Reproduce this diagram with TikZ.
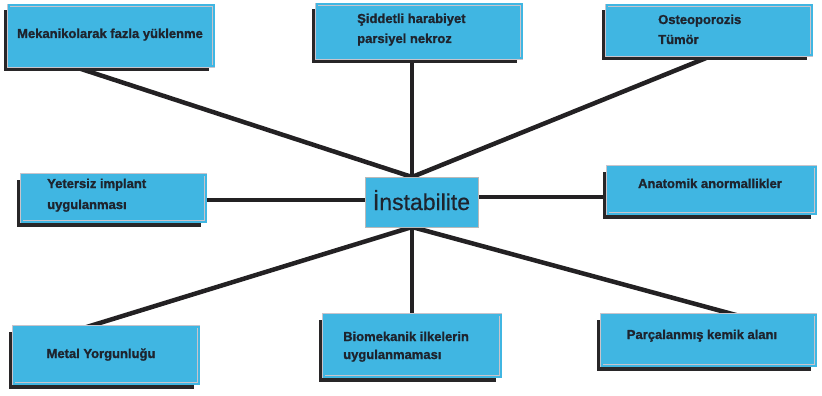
\documentclass[tikz,border=0pt]{standalone}
\usepackage{fontspec}
\setmainfont{Liberation Sans}[BoldFeatures={FakeBold=1.2}]
\newfontfamily\hubfont{Liberation Sans}[FakeBold=0.6]
\usetikzlibrary{shadows,backgrounds}
\definecolor{boxc}{RGB}{64,182,226}
\definecolor{framec}{RGB}{200,196,204}
\definecolor{shadc}{RGB}{40,38,40}
\definecolor{linec}{RGB}{35,33,35}
\definecolor{txtc}{RGB}{30,36,46}
\tikzset{
  box/.style={rectangle, inner sep=0pt, fill=boxc, draw=framec, line width=0.7pt,
    double=boxc, double distance=2pt,
    drop shadow={shadow xshift=-5pt, shadow yshift=-5pt, fill=shadc, opacity=1}},
  hubbox/.style={rectangle, inner sep=0pt, fill=boxc, draw=gray!55, line width=0.6pt},
  lbl/.style={inner sep=0pt, text=txtc, font=\bfseries\fontsize{13}{15}\selectfont},
  conn/.style={draw=linec, line width=4.5pt},
}
\begin{document}
\begin{tikzpicture}[x=1pt,y=-1pt]
\useasboundingbox (0,0) rectangle (822,396);

% boxes
\node[box, minimum width=205pt, minimum height=61pt] (b1) at (111,36) {};
\node[box, minimum width=205pt, minimum height=54pt] (b2) at (419,31.5) {};
\node[box, minimum width=205pt, minimum height=50pt] (b3) at (709,30.5) {};
\node[box, minimum width=184pt, minimum height=47pt] (b4) at (113.5,198) {};
\node[box, minimum width=208pt, minimum height=47pt] (b5) at (711.5,190) {};
\node[box, minimum width=185pt, minimum height=57pt] (b6) at (106,355) {};
\node[box, minimum width=177pt, minimum height=62pt] (b7) at (412,345.5) {};
\node[box, minimum width=214pt, minimum height=51pt] (b8) at (708.5,340) {};
\node[hubbox, minimum width=113pt, minimum height=50pt] (ctr) at (421.5,202) {};

% connector ends
\coordinate (hubT) at (412,177);
\coordinate (hubB) at (412,227);
\coordinate (hubL) at (366,200);
\coordinate (hubR) at (477,197);
\coordinate (e1) at (72,66);
\coordinate (e2) at (412,50);
\coordinate (e3) at (721,52);
\coordinate (e4) at (200,200);
\coordinate (e5) at (614,197);
\coordinate (e6) at (77,330);
\coordinate (e7) at (412,322);
\coordinate (e8) at (747,318);

\begin{pgfonlayer}{background}
  \fill[white] (0,0) rectangle (822,396);
  \draw[conn] (hubT) -- (e1);
  \draw[conn] (hubT) -- (e2);
  \draw[conn] (hubT) -- (e3);
  \draw[conn] (hubL) -- (e4);
  \draw[conn] (hubR) -- (e5);
  \draw[conn] (hubB) -- (e6);
  \draw[conn] (hubB) -- (e7);
  \draw[conn] (hubB) -- (e8);
\end{pgfonlayer}

% texts
\node[lbl, anchor=base] (t1) at (110,38) {Mekanikolarak fazla yüklenme};
\node[lbl, anchor=base west] (t2a) at (357,23) {Şiddetli harabiyet};
\node[lbl, anchor=base west] (t2b) at (357,43) {parsiyel nekroz};
\node[lbl, anchor=base west] (t3a) at (658,24) {Osteoporozis};
\node[lbl, anchor=base west] (t3b) at (658,44) {Tümör};
\node[lbl, anchor=base west] (t4a) at (47,188) {Yetersiz implant};
\node[lbl, anchor=base west] (t4b) at (47,209) {uygulanması};
\node[lbl, anchor=base] (t5) at (710,188) {Anatomik anormallikler};
\node[lbl, anchor=base] (t6) at (101,358) {Metal Yorgunluğu};
\node[lbl, anchor=base west] (t7a) at (343,341) {Biomekanik ilkelerin};
\node[lbl, anchor=base west] (t7b) at (343,359) {uygulanmaması};
\node[lbl, anchor=base] (t8) at (702,339) {Parçalanmış kemik alanı};
\node[inner sep=0pt, text=txtc, font=\hubfont\fontsize{23}{26}\selectfont, anchor=base] (tc) at (421.5,210) {İnstabilite};
\end{tikzpicture}
\end{document}
